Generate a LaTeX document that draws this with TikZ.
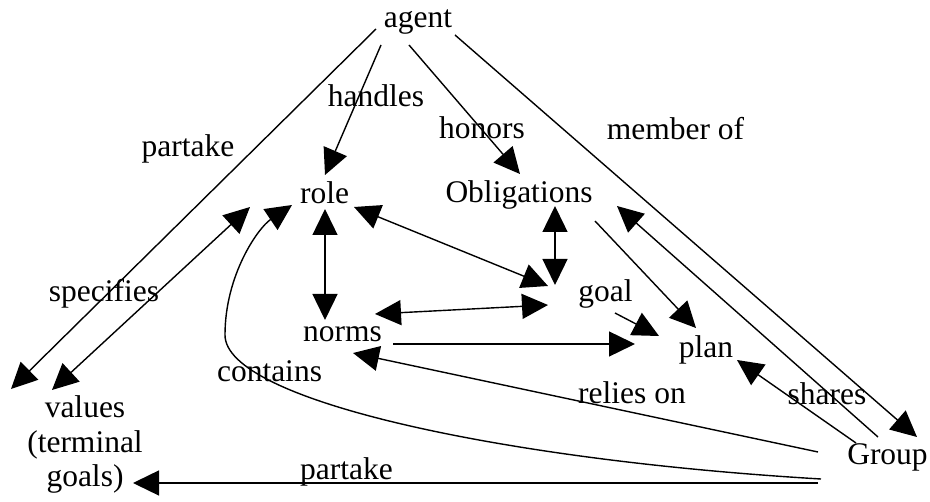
\documentclass[tikz,border=0pt]{standalone}
\usepackage{fontspec}
\setmainfont{Liberation Serif}
\usetikzlibrary{arrows.meta}
\begin{document}
\begin{tikzpicture}[x=1pt,y=-1pt,
  lbl/.style={anchor=base,inner sep=0pt,font=\fontsize{31.5}{34.5}\selectfont},
  arr/.style={-{Triangle[length=26pt,width=25pt]},line width=1.4pt},
  darr/.style={{Triangle[length=26pt,width=25pt]}-{Triangle[length=26pt,width=25pt]},line width=1.4pt}]
\useasboundingbox (0,0) rectangle (930,502);
% main nodes
\node[lbl] (agent) at (418,28) {agent};
\node[lbl] (role) at (324.5,204) {role};
\node[lbl] (obl) at (519,203) {Obligations};
\node[lbl] (norms) at (342.5,342) {norms};
\node[lbl] (goal) at (605.5,302) {goal};
\node[lbl] (plan) at (706,358) {plan};
\node[lbl] (group) at (887.5,465) {Group};
\node[lbl,align=center] (values) at (85,487) {values\\(terminal\\goals)};
% edge labels
\node[lbl] (l-handles) at (376,107) {handles};
\node[lbl] (l-partake1) at (188,157) {partake};
\node[lbl] (l-honors) at (482,139) {honors};
\node[lbl] (l-member) at (675.5,140) {member of};
\node[lbl] (l-specifies) at (104,302) {specifies};
\node[lbl] (l-contains) at (269.5,382) {contains};
\node[lbl] (l-relies) at (632,404) {relies on};
\node[lbl] (l-shares) at (827,405) {shares};
\node[lbl] (l-partake2) at (346.5,480) {partake};
% connector end points
\coordinate (agent-ll) at (376,29);
\coordinate (agent-l) at (381,45);
\coordinate (agent-r) at (409,45);
\coordinate (agent-rr) at (455,35);
\coordinate (role-t) at (325,175);
\coordinate (role-b) at (325,209);
\coordinate (role-l1) at (250,207);
\coordinate (role-l2) at (292,205);
\coordinate (role-r) at (354,207);
\coordinate (obl-t) at (520,174);
\coordinate (obl-b) at (555,206);
\coordinate (obl-r1) at (595,221);
\coordinate (obl-r2) at (617,206);
\coordinate (norms-t) at (325,320);
\coordinate (norms-r1) at (375,314);
\coordinate (norms-r2) at (393,344);
\coordinate (norms-r3) at (353,353);
\coordinate (goal-a) at (548,286);
\coordinate (goal-b) at (555,285);
\coordinate (goal-c) at (548,305);
\coordinate (goal-o) at (615,313);
\coordinate (plan-a) at (659,336);
\coordinate (plan-b) at (635,344);
\coordinate (plan-c) at (696,328);
\coordinate (plan-d) at (737,360);
\coordinate (group-a) at (917,437);
\coordinate (group-b) at (878,437);
\coordinate (group-c) at (856,443);
\coordinate (group-d) at (818,452);
\coordinate (group-e) at (821,479);
\coordinate (group-f) at (818,483);
\coordinate (values-a) at (11,389);
\coordinate (values-b) at (52,390);
\coordinate (values-c) at (133,483);
% connectors
\draw[arr] (agent-l) -- (role-t);
\draw[arr] (agent-ll) -- (values-a);
\draw[arr] (agent-r) -- (obl-t);
\draw[arr] (agent-rr) -- (group-a);
\draw[darr] (values-b) -- (role-l1);
\draw[darr] (role-b) -- (norms-t);
\draw[darr] (role-r) -- (goal-a);
\draw[darr] (obl-b) -- (goal-b);
\draw[darr] (norms-r1) -- (goal-c);
\draw[arr] (goal-o) -- (plan-a);
\draw[arr] (norms-r2) -- (plan-b);
\draw[arr] (obl-r1) -- (plan-c);
\draw[arr] (group-b) -- (obl-r2);
\draw[arr] (group-c) -- (plan-d);
\draw[arr] (group-d) -- (norms-r3);
\draw[arr] (group-f) -- (values-c);
\draw[arr] (group-e) .. controls (500,460) and (225,400) .. (225,335)
  .. controls (225,275) and (258,228) .. (role-l2);
\end{tikzpicture}
\end{document}
